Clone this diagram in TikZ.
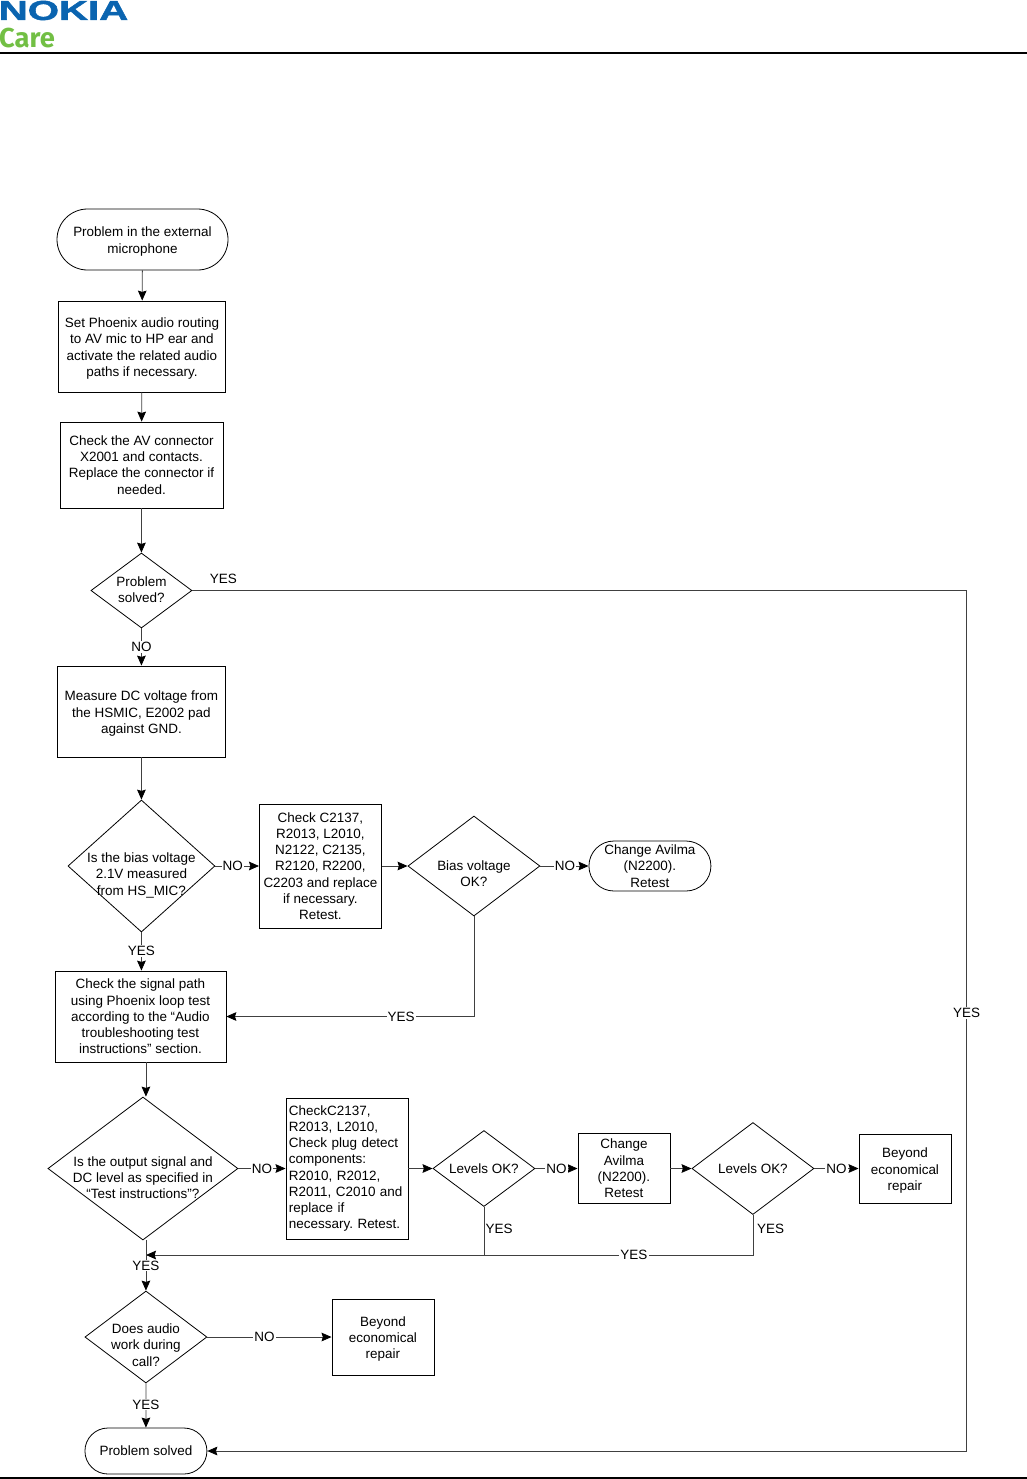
\documentclass[tikz,border=0pt]{standalone}
\usepackage{fontspec}
\setmainfont{Liberation Sans}
\newfontfamily\carefont{Fira Sans}
\newfontfamily\nokiafont[FakeBold=1.5]{Liberation Sans Bold}
\usetikzlibrary{arrows.meta,shapes.geometric,shapes.misc}
\definecolor{nokiablue}{HTML}{0A64B0}
\definecolor{caregreen}{HTML}{72BF44}
\definecolor{edgegray}{gray}{0.25}
\newcommand{\dtext}[2][0pt]{\makebox[0pt]{\smash{\raisebox{#1}{\begin{tabular}{@{}c@{}}#2\end{tabular}}}}}
\newcommand{\toprule}{\rule{0pt}{10.5pt}}
\tikzset{
  flowfont/.style={font=\fontsize{10.1}{12.2}\selectfont},
  process/.style={rectangle, draw, line width=.6pt, flowfont, align=center, inner sep=0pt},
  decision/.style={diamond, draw, line width=.6pt, flowfont, inner sep=0pt},
  terminal/.style={rounded rectangle, draw, line width=.6pt, flowfont, align=center, inner sep=0pt},
  edgelabel/.style={flowfont, text=black, fill=white, inner sep=.8pt},
  sidelabel/.style={flowfont, text=black, inner sep=2pt},
  link/.style={->, draw=edgegray, line width=.6pt}
}
\begin{document}
\begin{tikzpicture}[x=.75pt, y=-.75pt, >={Stealth[length=7.5pt,width=6.5pt,inset=1pt,black]}]
  \useasboundingbox (0,0) rectangle (1027,1479);
  % header
  \node (nokia) [text=nokiablue, inner sep=0pt, font=\fontsize{20.5}{20}\selectfont\nokiafont] at (63.5,10.5) {\scalebox{1.47}[1]{NOKIA}};
  \node (care) [text=caregreen, inner sep=0pt, font=\fontsize{20.5}{20}\selectfont\carefont\bfseries] at (27,38) {Care};
  \draw [line width=1.5pt] (0,53) -- (1027,53);
  \draw [line width=1.5pt] (0,1477.5) -- (1027,1477.5);

  % main column
  \node (start) [terminal, minimum width=128.25pt, minimum height=45.75pt] at (142.5,239.5) {\toprule Problem in the external\\microphone};
  \node (setpath) [process, node distance=80.25pt, below of=start, xshift=-.4pt, minimum width=125.25pt, minimum height=68.25pt] {\toprule Set Phoenix audio routing\\to AV mic to HP ear and\\activate the related audio\\paths if necessary.};
  \node (avconn) [process, node distance=88.875pt, below of=setpath, xshift=-.4pt, minimum width=122.25pt, minimum height=64.5pt] {Check the AV connector\\X2001 and contacts.\\Replace the connector if\\needed.};
  \node (solved) [decision, node distance=94.125pt, below of=avconn, minimum width=75.75pt, minimum height=56.25pt] {\dtext[-3pt]{Problem\\solved?}};
  \node (measure) [process, node distance=90.75pt, below of=solved, minimum width=126pt, minimum height=68.25pt] {\toprule Measure DC voltage from\\the HSMIC, E2002 pad\\against GND.};
  \node (bias) [decision, node distance=115.875pt, below of=measure, minimum width=110.25pt, minimum height=99pt] {\dtext[-9.7pt]{Is the bias voltage\\2.1V measured\\from HS\_MIC?}};
  \node (signal) [process, node distance=112.875pt, below of=bias, xshift=-.75pt, minimum width=128.25pt, minimum height=68.25pt] {Check the signal path\\using Phoenix loop test\\according to the “Audio\\troubleshooting test\\instructions” section.};
  \node (output) [decision, node distance=114pt, below of=signal, xshift=1.875pt, minimum width=142.5pt, minimum height=107.25pt] {\dtext[-10.5pt]{Is the output signal and\\DC level as specified in\\“Test instructions”?}};
  \node (audio) [decision, node distance=126.375pt, below of=output, xshift=2.25pt, minimum width=91.5pt, minimum height=69pt] {\dtext[-9.7pt]{Does audio\\work during\\call?}};
  \node (finish) [terminal, node distance=85.5pt, below of=audio, minimum width=91.5pt, minimum height=34.5pt] {Problem solved};
  \node (beyondb) [process, node distance=177.75pt, right of=audio, minimum width=76.5pt, minimum height=57pt] {\toprule Beyond\\economical\\repair};

  % bias row
  \node (checkc) [process, node distance=134.625pt, right of=bias, xshift=-.4pt, minimum width=91.5pt, minimum height=93pt] {Check C2137,\\R2013, L2010,\\N2122, C2135,\\R2120, R2200,\\C2203 and replace\\if necessary.\\Retest.};
  \node (biasok) [decision, node distance=115.15pt, right of=checkc, minimum width=99pt, minimum height=75pt] {\dtext[-9.7pt]{Bias voltage\\OK?}};
  \node (avilma) [terminal, node distance=132pt, right of=biasok, minimum width=91.5pt, minimum height=37.5pt] {Change Avilma\\(N2200).\\Retest};

  % output row
  \node (plug) [process, node distance=153pt, right of=output, align=left, inner xsep=2.25pt, text width=87pt, minimum height=105.75pt] {CheckC2137,\\R2013, L2010,\\Check plug detect\\components:\\R2010, R2012,\\R2011, C2010 and\\replace if\\necessary.\ Retest.};
  \node (levelsa) [decision, node distance=102.75pt, right of=plug, minimum width=76.5pt, minimum height=57pt] {\dtext[-3.75pt]{Levels OK?}};
  \node (changeav) [process, node distance=105pt, right of=levelsa, minimum width=69pt, minimum height=52.5pt] {Change\\Avilma\\(N2200).\\Retest};
  \node (levelsb) [decision, node distance=96.75pt, right of=changeav, minimum width=91.5pt, minimum height=69pt] {\dtext[-3.75pt]{Levels OK?}};
  \node (beyonda) [process, node distance=114pt, right of=levelsb, minimum width=69pt, minimum height=51.75pt] {\toprule Beyond\\economical\\repair};

  \coordinate (railtop) at (966.5,590.5);
  \coordinate (railbot) at (966.5,1451);
  \coordinate (merge) at (146,1255);

  \draw [link] (start) -- (setpath);
  \draw [link] (setpath) -- (avconn);
  \draw [link] (avconn) -- (solved);
  \draw [link] (solved) -- node [edgelabel] {NO} (measure);
  \draw [link] (measure) -- (bias);
  \draw [link] (bias) -- node [edgelabel, pos=.4] {NO} (checkc);
  \draw [link] (checkc) -- (biasok);
  \draw [link] (biasok) -- node [edgelabel, pos=.51] {NO} (avilma);
  \draw [link] (bias.south) -- node [edgelabel, pos=.48] {YES} (signal.north -| bias.south);
  \draw [link] (biasok.south) |- node [edgelabel, pos=.647] {YES} (signal.east);
  \draw [link] (signal.south -| audio.north) -- (output.north -| audio.north);
  \draw [link] (output) -- node [edgelabel, pos=.5] {NO} (plug);
  \draw [link] (plug) -- (levelsa);
  \draw [link] (levelsa) -- node [edgelabel, pos=.5] {NO} (changeav);
  \draw [link] (changeav) -- (levelsb);
  \draw [link] (levelsb) -- node [edgelabel, pos=.5] {NO} (beyonda);
  \draw [link] (levelsb.south) |- node [edgelabel, pos=.598] {YES} (merge);
  \draw [link, -] (levelsa.south) -- node [sidelabel, right, pos=.45, inner sep=1pt] {YES} (levelsa.south |- merge);
  \path (levelsb.south) -- node [sidelabel, right, pos=.35, inner sep=3pt] (yeslevels) {YES} (levelsb.south |- merge);
  \draw [link] (output.south -| audio.north) -- node [edgelabel, pos=.5] {YES} (audio.north);
  \draw [link] (audio) -- node [edgelabel, pos=.46] {NO} (beyondb);
  \draw [link] (audio) -- node [edgelabel, pos=.48] {YES} (finish);
  \draw [link] (solved.east) -- node [sidelabel, above, pos=.04, yshift=2.5pt] {YES} (railtop) -- node [edgelabel, pos=.491] {YES} (railbot) -- (finish.east);
\end{tikzpicture}
\end{document}
